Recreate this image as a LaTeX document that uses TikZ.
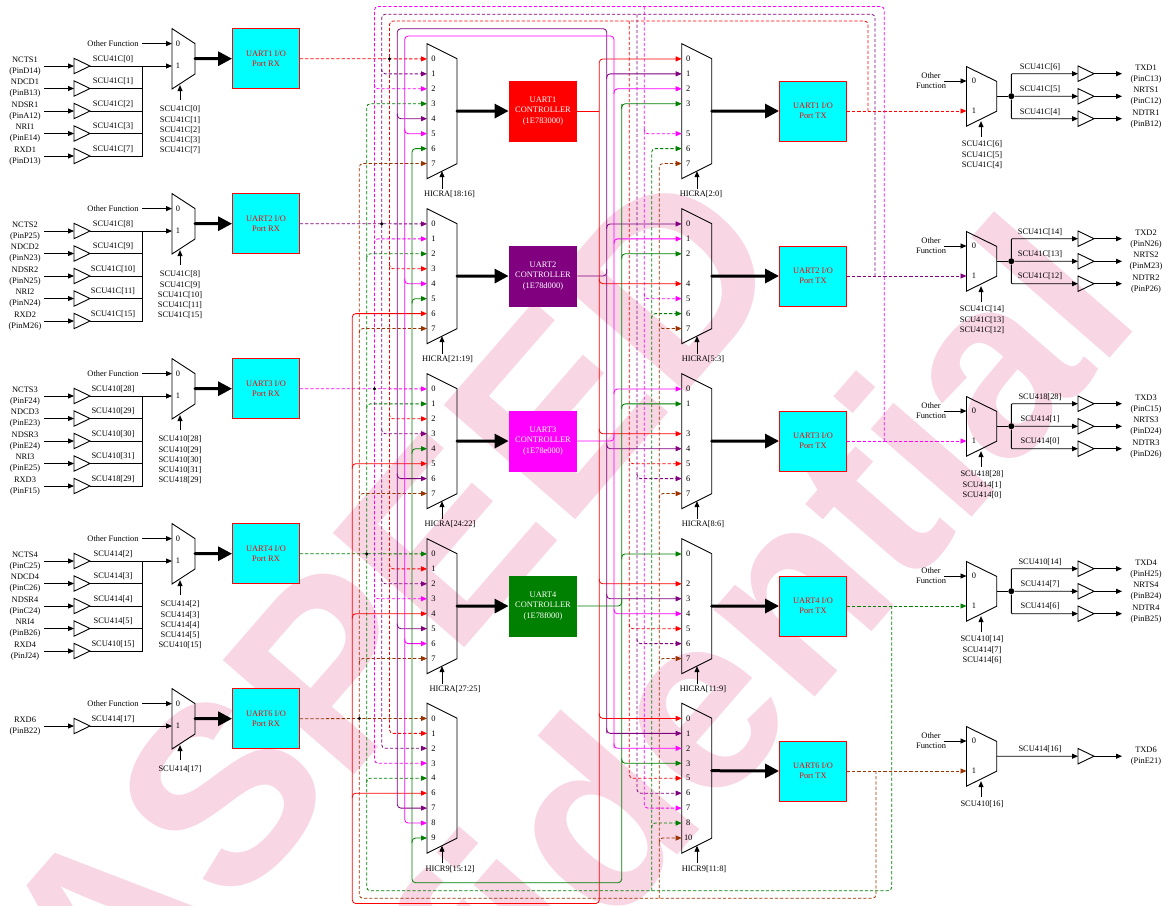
\documentclass[tikz,border=0pt]{standalone}
\usepackage{fontspec}
\setmainfont{Liberation Serif}
\newfontfamily\wmfont{Liberation Sans}
\usetikzlibrary{arrows.meta}
\definecolor{wm}{RGB}{248,214,228}
\definecolor{brn}{RGB}{153,51,0}
\definecolor{grn}{RGB}{0,128,0}
\definecolor{pur}{RGB}{128,0,128}
\definecolor{mag}{RGB}{255,0,255}
\definecolor{cy}{RGB}{0,255,255}
\definecolor{rd}{RGB}{255,0,0}
\tikzset{
  txt/.style={inner sep=0pt,align=center,font=\fontsize{8.4}{10.2}\selectfont},
  plab/.style={inner sep=0pt,font=\fontsize{8.4}{10}\selectfont},
  arr/.style={-{Triangle[length=6pt,width=5pt]}},
  both/.style={{Triangle[length=6pt,width=5pt]}-{Triangle[length=6pt,width=5pt]}},
  thick arr/.style={line width=3pt,-{Triangle[length=14pt,width=14pt]},line cap=round},
  dsh/.style={dash pattern=on 3.2pt off 2pt},
  rc/.style={rounded corners=3.5pt},
  shp/.style={line width=.9pt},
  iobox/.style={draw=rd,fill=cy,line width=.9pt,minimum width=67pt,minimum height=60pt,inner sep=0pt,text=rd,align=center,font=\fontsize{8.4}{10.2}\selectfont},
  ctl/.style={fill=#1,minimum width=68pt,minimum height=61pt,inner sep=0pt,text=white,align=center,font=\fontsize{8.4}{10.2}\selectfont},
  dot/.style={circle,fill=black,inner sep=0pt,minimum size=#1},
  wmark/.style={rotate=49,anchor=base,text=wm,inner sep=0pt,font=\wmfont\bfseries\fontsize{253}{253}\selectfont}
}
% input row: id, y, name, pin, signal
\newcommand\inrow[5]{%
  \node[txt,font=\fontsize{8.4}{11}\selectfont] (#1t) at (25,#2) {#3\\(#4)};
  \coordinate (#1a) at (44,#2); \coordinate (#1b) at (74,#2); \coordinate (#1c) at (90,#2); \coordinate (#1d) at (142.5,#2);
  \draw[shp] (74,#2-7.7) -- (90,#2) -- (74,#2+7.7) -- cycle;
  \draw[arr,shp] (#1a) -- (#1b);
  \draw[shp] (#1c) -- (#1d);
  \node[txt] (#1s) at (113,#2-7.3) {#5};
}
% left mux: id, top y, select lines
\newcommand\rmux[3]{%
  \draw[shp] (172,#2) -- (195,#2+15) -- (195,#2+45.4) -- (172,#2+60.4) -- cycle;
  \coordinate (#1-0) at (172,#2+15); \coordinate (#1-1) at (172,#2+37.4);
  \coordinate (#1-out) at (195,#2+30.1);
  \coordinate (#1-ofs) at (142,#2+15);
  \coordinate (#1-sa) at (180,#2+71.4); \coordinate (#1-sb) at (180,#2+56.5);
  \node[plab] (#1-l0) at (178,#2+15) {0};
  \node[plab] (#1-l1) at (178,#2+37.4) {1};
  \node[txt] (#1-of) at (113,#2+15) {Other Function};
  \draw[arr,shp] (#1-ofs) -- (#1-0);
  \draw[arr,shp] (#1-sa) -- (#1-sb);
  \node[txt,anchor=north] (#1-sel) at (180,#2+77) {#3};
}
% centre mux: id, x, top y, slots, list pos/lab, select x, label x, select text
\newcommand\cmux[8]{%
  \draw[shp] (#2,#3) -- (#2+30,#3+15) -- (#2+30,#3+15+#4) -- (#2,#3+30+#4) -- cycle;
  \coordinate (#1-out) at (#2+30,#3+67.5);
  \coordinate (#1-sa) at (#6,#3+30+#4-.5+10.5); \coordinate (#1-sb) at (#6,#3+30+#4-7.5);
  \draw[arr,shp] (#1-sa) -- (#1-sb);
  \foreach \p/\l in {#5}{
    \coordinate (#1-\l) at (#2,#3+15.2+\p*14.95);
    \node[plab] (#1-t\l) at (#2+6.5,#3+15.2+\p*14.95) {\l};
  }
  \node[txt] (#1-sel) at (#7,#3+30+#4+15.5) {#8};
}
% output mux: id, top y, select lines
\newcommand\omux[3]{%
  \draw[shp] (966.5,#2) -- (996.7,#2+14.8) -- (996.7,#2+44.6) -- (966.5,#2+59.6) -- cycle;
  \coordinate (#1-0) at (966.5,#2+14.4); \coordinate (#1-1) at (966.5,#2+44.4);
  \coordinate (#1-out) at (996.7,#2+29.6);
  \coordinate (#1-ofs) at (944,#2+14.4);
  \coordinate (#1-sa) at (981,#2+70.6); \coordinate (#1-sb) at (981,#2+54.5);
  \node[plab] (#1-l0) at (974,#2+14.4) {0};
  \node[plab] (#1-l1) at (974,#2+44.4) {1};
  \node[txt,font=\fontsize{8.4}{10}\selectfont] (#1-of) at (931,#2+14.4) {Other\\Function};
  \draw[arr,shp] (#1-ofs) -- (#1-0);
  \draw[arr,shp] (#1-sa) -- (#1-sb);
  \node[txt,anchor=north] (#1-sel) at (982,#2+74) {#3};
}
% output row: id, y, label y, name, pin, signal
\newcommand\outrow[6]{%
  \coordinate (#1a) at (1078,#2); \coordinate (#1b) at (1094,#2); \coordinate (#1c) at (1122,#2);
  \draw[shp] (1078,#2-7.7) -- (1094,#2) -- (1078,#2+7.7) -- cycle;
  \draw[arr,shp] (#1b) -- (#1c);
  \node[txt,font=\fontsize{8.4}{11}\selectfont] (#1t) at (1146,#2) {#4\\(#5)};
  \node[txt] (#1s) at (1040,#3) {#6};
}
\newcommand\tap[4]{\draw[#1,rc,arr] (#2 |- #3) ++(0,#4) -- (#2 |- #3) -- (#3);}
\begin{document}
\begin{tikzpicture}[x=1pt,y=-1pt,line width=.8pt]
\useasboundingbox (0,0) rectangle (1166,905);
\clip (0,0) rectangle (1166,905);
% watermark
\node[wmark] (wm1) at (454,660) {ASPEED};
\node[wmark] (wm2) at (665,870) {Confidential};

% ---------- left inputs
\rmux{m1}{28.6}{SCU41C[0]\\SCU41C[1]\\SCU41C[2]\\SCU41C[3]\\SCU41C[7]}
\inrow{i11}{66}{NCTS1}{PinD14}{SCU41C[0]}
\inrow{i12}{88.5}{NDCD1}{PinB13}{SCU41C[1]}
\inrow{i13}{111}{NDSR1}{PinA12}{SCU41C[2]}
\inrow{i14}{133.5}{NRI1}{PinE14}{SCU41C[3]}
\inrow{i15}{156}{RXD1}{PinD13}{SCU41C[7]}
\rmux{m2}{193.6}{SCU41C[8]\\SCU41C[9]\\SCU41C[10]\\SCU41C[11]\\SCU41C[15]}
\inrow{i21}{231}{NCTS2}{PinP25}{SCU41C[8]}
\inrow{i22}{253.5}{NDCD2}{PinN23}{SCU41C[9]}
\inrow{i23}{276}{NDSR2}{PinN25}{SCU41C[10]}
\inrow{i24}{298.5}{NRI2}{PinN24}{SCU41C[11]}
\inrow{i25}{321}{RXD2}{PinM26}{SCU41C[15]}
\rmux{m3}{358.6}{SCU410[28]\\SCU410[29]\\SCU410[30]\\SCU410[31]\\SCU418[29]}
\inrow{i31}{396}{NCTS3}{PinF24}{SCU410[28]}
\inrow{i32}{418.5}{NDCD3}{PinE23}{SCU410[29]}
\inrow{i33}{441}{NDSR3}{PinE24}{SCU410[30]}
\inrow{i34}{463.5}{NRI3}{PinE25}{SCU410[31]}
\inrow{i35}{486}{RXD3}{PinF15}{SCU418[29]}
\rmux{m4}{523.6}{SCU414[2]\\SCU414[3]\\SCU414[4]\\SCU414[5]\\SCU410[15]}
\inrow{i41}{561}{NCTS4}{PinC25}{SCU414[2]}
\inrow{i42}{583.5}{NDCD4}{PinC26}{SCU414[3]}
\inrow{i43}{606}{NDSR4}{PinC24}{SCU414[4]}
\inrow{i44}{628.5}{NRI4}{PinB26}{SCU414[5]}
\inrow{i45}{651}{RXD4}{PinJ24}{SCU410[15]}
\rmux{m5}{688.6}{SCU414[17]}
\inrow{i51}{726}{RXD6}{PinB22}{SCU414[17]}
\foreach \g in {1,2,3,4}{
  \draw[shp] (i\g1d) -- (i\g5d);
  \draw[arr,shp] (i\g1d) -- (m\g-1);
}
\draw[arr,shp] (i51d) -- (m5-1);

% ---------- port boxes
\node[iobox] (rx1) at (266,58.7) {UART1 I/O\\Port RX};
\node[iobox] (rx2) at (266,223.7) {UART2 I/O\\Port RX};
\node[iobox] (rx3) at (266,388.7) {UART3 I/O\\Port RX};
\node[iobox] (rx4) at (266,553.7) {UART4 I/O\\Port RX};
\node[iobox] (rx5) at (266,718.7) {UART6 I/O\\Port RX};
\foreach \g in {1,...,5}{\draw[thick arr] (m\g-out) -- (rx\g.west);}

\node[iobox] (tx1) at (813,111) {UART1 I/O\\Port TX};
\node[iobox] (tx2) at (813,276) {UART2 I/O\\Port TX};
\node[iobox] (tx3) at (813,441) {UART3 I/O\\Port TX};
\node[iobox] (tx4) at (813,606) {UART4 I/O\\Port TX};
\node[iobox] (tx5) at (813,771) {UART6 I/O\\Port TX};

\node[ctl=rd] (c1) at (543,111) {UART1\\CONTROLLER\\(1E783000)};
\node[ctl=pur] (c2) at (543,276) {UART2\\CONTROLLER\\(1E78d000)};
\node[ctl=mag] (c3) at (543,441) {UART3\\CONTROLLER\\(1E78e000)};
\node[ctl=grn] (c4) at (543,606) {UART4\\CONTROLLER\\(1E78f000)};

% ---------- centre muxes
\cmux{a1}{427}{43.7}{105}{0/0,1/1,2/2,3/3,4/4,5/5,6/6,7/7}{442}{449.5}{HICRA[18:16]}
\cmux{a2}{427}{208.7}{105}{0/0,1/1,2/2,3/3,4/4,5/5,6/6,7/7}{442}{447.5}{HICRA[21:19]}
\cmux{a3}{427}{373.7}{105}{0/0,1/1,2/2,3/3,4/4,5/5,6/6,7/7}{442}{450}{HICRA[24:22]}
\cmux{a4}{427}{538.7}{105}{0/0,1/1,2/2,3/3,4/4,5/5,6/6,7/7}{442}{455}{HICRA[27:25]}
\cmux{a5}{427}{703.2}{120}{0/0,1/1,2/2,3/3,4/4,5/6,6/7,7/8,8/9}{442}{450}{HICR9[15:12]}
\cmux{b1}{681.7}{43.7}{105}{0/0,1/1,2/2,3/3,5/5,6/6,7/7}{697}{701}{HICRA[2:0]}
\cmux{b2}{681.7}{208.7}{105}{0/0,1/1,2/2,4/4,5/5,6/6,7/7}{697}{703}{HICRA[5:3]}
\cmux{b3}{681.7}{373.7}{105}{0/0,1/1,3/3,4/4,5/5,6/6,7/7}{697}{703}{HICRA[8:6]}
\cmux{b4}{681.7}{538.7}{105}{0/0,2/2,3/3,4/4,5/5,6/6,7/7}{697}{703}{HICRA[11:9]}
\cmux{b5}{681.7}{703.2}{120}{0/0,1/1,2/2,3/3,4/5,5/6,6/7,7/8,8/10}{697}{704}{HICR9[11:8]}
\foreach \g in {1,2,3,4}{
  \draw[thick arr] (a\g-out) -- (c\g.west);
  \draw[thick arr] (b\g-out) -- (tx\g.west);
}
\draw[thick arr] (b5-out) -- (tx5.west);

% ---------- output muxes
\omux{o1}{66.6}{SCU41C[6]\\SCU41C[5]\\SCU41C[4]}
\outrow{r11}{73.7}{67}{TXD1}{PinC13}{SCU41C[6]}
\outrow{r12}{96.3}{89}{NRTS1}{PinC12}{SCU41C[5]}
\outrow{r13}{118.7}{112}{NDTR1}{PinB12}{SCU41C[4]}
\omux{o2}{231.6}{SCU41C[14]\\SCU41C[13]\\SCU41C[12]}
\outrow{r21}{238.7}{232}{TXD2}{PinN26}{SCU41C[14]}
\outrow{r22}{261.3}{254}{NRTS2}{PinM23}{SCU41C[13]}
\outrow{r23}{283.7}{276}{NDTR2}{PinP26}{SCU41C[12]}
\omux{o3}{396.6}{SCU418[28]\\SCU414[1]\\SCU414[0]}
\outrow{r31}{403.7}{397}{TXD3}{PinC15}{SCU418[28]}
\outrow{r32}{426.3}{419}{NRTS3}{PinD24}{SCU414[1]}
\outrow{r33}{448.7}{441}{NDTR3}{PinD26}{SCU414[0]}
\omux{o4}{561.6}{SCU410[14]\\SCU414[7]\\SCU414[6]}
\outrow{r41}{568.7}{562}{TXD4}{PinH25}{SCU410[14]}
\outrow{r42}{591.3}{584}{NRTS4}{PinB24}{SCU414[7]}
\outrow{r43}{613.7}{606}{NDTR4}{PinB25}{SCU414[6]}
\omux{o5}{726.6}{SCU410[16]}
\outrow{r51}{756.2}{749}{TXD6}{PinE21}{SCU414[16]}
\foreach \g in {1,2,3,4}{
  \node[dot=6pt] (j\g) at (1011.3,66.6+29.6+165*\g-165) {};
  \draw[shp] (o\g-out) -- (j\g);
  \draw[shp,arr] (j\g) -- (r\g2a);
  \draw[shp,arr,rounded corners=1pt] (j\g) -- (j\g |- r\g1a) -- (r\g1a);
  \draw[shp,arr,rounded corners=1pt] (j\g) -- (j\g |- r\g3a) -- (r\g3a);
}
\draw[shp,arr] (o5-out) -- (r51a);

% ---------- bus rails
\coordinate (xBr) at (359.3,0); \coordinate (xGd) at (366.7,0); \coordinate (xMd) at (374.5,0);
\coordinate (xPd) at (381.7,0); \coordinate (xRd) at (389.5,0); \coordinate (xRs) at (352.3,0);
\coordinate (xPs) at (397.3,0); \coordinate (xMs) at (404.7,0); \coordinate (xGs) at (412,0);
\coordinate (XRs) at (599.3,0); \coordinate (XPs) at (606.7,0); \coordinate (XMs) at (614,0);
\coordinate (XGs) at (621.7,0); \coordinate (XRd) at (629.3,0); \coordinate (XPd) at (637,0);
\coordinate (XMd) at (644.3,0); \coordinate (XGd) at (651.7,0); \coordinate (XBr) at (659.3,0);
\coordinate (ORd) at (868,0); \coordinate (OPd) at (875,0); \coordinate (OMd) at (884.3,0);
\coordinate (OGd) at (891.7,0); \coordinate (OBr) at (876,0);
\coordinate (yMd) at (0,6.5); \coordinate (yPd) at (0,14.3); \coordinate (yRd) at (0,21);
\coordinate (yPs) at (0,28.7); \coordinate (yMs) at (0,36); \coordinate (yGs) at (0,882.7);
\coordinate (yGd) at (0,890.7); \coordinate (yBr) at (0,898.3); \coordinate (yRs) at (0,903.5);

% ---- UART1 RX / TX: red dashed
\draw[rd,dsh,arr] (rx1.east) -- (a1-0);
\draw[rd,dsh,arr] (tx1.east) -- (o1-1);
\draw[rd,dsh,rc,arr] (ORd |- tx1.east) -- (ORd |- yRd) -- (xRd |- yRd) -- (xRd |- a5-1) -- (a5-1);
\draw[rd,dsh,rc,arr] (XRd |- yRd) -- (XRd |- b5-5) -- (b5-5);
\tap{rd,dsh}{xRd}{a2-3}{-5}\tap{rd,dsh}{xRd}{a3-2}{-5}\tap{rd,dsh}{xRd}{a4-1}{-5}
\tap{rd,dsh}{XRd}{b3-5}{-5}\tap{rd,dsh}{XRd}{b4-5}{-5}
\node[dot=3.4pt] (d1) at (xRd |- a1-0) {};
% ---- UART2: purple dashed
\draw[pur,dsh,arr] (rx2.east) -- (a2-0);
\draw[pur,dsh,arr] (tx2.east) -- (o2-1);
\draw[pur,dsh,rc,arr] (OPd |- tx2.east) -- (OPd |- yPd) -- (xPd |- yPd) -- (xPd |- a5-2) -- (a5-2);
\draw[pur,dsh,rc,arr] (XPd |- yPd) -- (XPd |- b5-6) -- (b5-6);
\tap{pur,dsh}{xPd}{a1-1}{-5}\tap{pur,dsh}{xPd}{a3-3}{-5}\tap{pur,dsh}{xPd}{a4-2}{-5}
\tap{pur,dsh}{XPd}{b3-6}{-5}\tap{pur,dsh}{XPd}{b4-6}{-5}
\node[dot=3.4pt] (d2) at (xPd |- a2-0) {};
% ---- UART3: magenta dashed
\draw[mag,dsh,arr] (rx3.east) -- (a3-0);
\draw[mag,dsh,arr] (tx3.east) -- (o3-1);
\draw[mag,dsh,rc,arr] (OMd |- tx3.east) -- (OMd |- yMd) -- (xMd |- yMd) -- (xMd |- a5-3) -- (a5-3);
\draw[mag,dsh,rc,arr] (XMd |- yMd) -- (XMd |- b5-7) -- (b5-7);
\tap{mag,dsh}{xMd}{a1-2}{-5}\tap{mag,dsh}{xMd}{a2-1}{5}\tap{mag,dsh}{xMd}{a4-3}{-5}
\tap{mag,dsh}{XMd}{b1-5}{-5}\tap{mag,dsh}{XMd}{b2-5}{-5}
\node[dot=3.4pt] (d3) at (xMd |- a3-0) {};
% ---- UART4: green dashed
\draw[grn,dsh,arr] (rx4.east) -- (a4-0);
\draw[grn,dsh,arr] (tx4.east) -- (o4-1);
\draw[grn,dsh,rc,arr] (OGd |- tx4.east) -- (OGd |- yGd) -- (xGd |- yGd) -- (xGd |- a1-3) -- (a1-3);
\draw[grn,dsh,rc,arr] (XGd |- yGd) -- (XGd |- b1-6) -- (b1-6);
\tap{grn,dsh}{xGd}{a2-2}{5}\tap{grn,dsh}{xGd}{a3-1}{5}\tap{grn,dsh}{xGd}{a5-4}{5}
\tap{grn,dsh}{XGd}{b2-6}{5}\tap{grn,dsh}{XGd}{b5-8}{5}
\node[dot=3.4pt] (d4) at (xGd |- a4-0) {};
% ---- UART6: brown dashed
\draw[brn,dsh,arr] (rx5.east) -- (a5-0);
\draw[brn,dsh,arr] (tx5.east) -- (o5-1);
\draw[brn,dsh,rc,arr] (OBr |- tx5.east) -- (OBr |- yBr) -- (xBr |- yBr) -- (xBr |- a1-7) -- (a1-7);
\draw[brn,dsh,rc,arr] (XBr |- yBr) -- (XBr |- b1-7) -- (b1-7);
\tap{brn,dsh}{xBr}{a2-7}{5}\tap{brn,dsh}{xBr}{a3-7}{5}\tap{brn,dsh}{xBr}{a4-7}{5}
\tap{brn,dsh}{XBr}{b2-7}{-5}\tap{brn,dsh}{XBr}{b3-7}{5}\tap{brn,dsh}{XBr}{b4-7}{5}\tap{brn,dsh}{XBr}{b5-10}{5}
\node[dot=3.4pt] (d5) at (xBr |- a5-0) {};

% ---- controller 1: red solid
\draw[rd,rc,both] (a2-6) -- (xRs |- a2-6) -- (xRs |- yRs) -- (XRs |- yRs) -- (XRs |- b1-0) -- (b1-0);
\draw[rd] (c1.east) -- (XRs |- c1.east);
\tap{rd}{xRs}{a3-5}{5}\tap{rd}{xRs}{a4-4}{5}\tap{rd}{xRs}{a5-6}{5}
\tap{rd}{XRs}{b2-4}{-5}\tap{rd}{XRs}{b3-3}{-5}\tap{rd}{XRs}{b4-2}{-5}\tap{rd}{XRs}{b5-0}{-5}
% ---- controller 2: purple solid
\draw[pur,rc,arr] (XPs |- b5-1) -- (XPs |- yPs) -- (xPs |- yPs) -- (xPs |- a5-7) -- (a5-7);
\draw[pur,rc,arr] (XPs |- b1-1) ++(0,5) -- (XPs |- b1-1) -- (b1-1);
\draw[pur,rc] (c2.east) -- (XPs |- c2.east) -- ++(0,-7);
\tap{pur}{xPs}{a1-4}{-5}\tap{pur}{xPs}{a3-6}{-5}\tap{pur}{xPs}{a4-5}{-5}
\tap{pur}{XPs}{b2-0}{5}\tap{pur}{XPs}{b3-4}{-5}\tap{pur}{XPs}{b4-3}{-5}\tap{pur}{XPs}{b5-1}{-5}
% ---- controller 3: magenta solid
\draw[mag,rc,arr] (XMs |- b5-2) -- (XMs |- yMs) -- (xMs |- yMs) -- (xMs |- a5-8) -- (a5-8);
\draw[mag,rc] (c3.east) -- (XMs |- c3.east) -- ++(0,-7);
\tap{mag}{xMs}{a1-5}{-5}\tap{mag}{xMs}{a2-4}{-5}\tap{mag}{xMs}{a4-6}{-5}
\tap{mag}{XMs}{b1-2}{5}\tap{mag}{XMs}{b2-1}{5}\tap{mag}{XMs}{b3-0}{5}\tap{mag}{XMs}{b4-4}{-5}\tap{mag}{XMs}{b5-2}{-5}
% ---- controller 4: green solid
\draw[grn,rc,arr] (XGs |- b1-3) -- (XGs |- yGs) -- (xGs |- yGs) -- (xGs |- a1-6) -- (a1-6);
\draw[grn,rc,arr] (XGs |- b1-3) ++(0,5) -- (XGs |- b1-3) -- (b1-3);
\draw[grn,rc] (c4.east) -- (XGs |- c4.east) -- ++(0,-7);
\tap{grn}{xGs}{a2-5}{5}\tap{grn}{xGs}{a3-4}{5}\tap{grn}{xGs}{a5-9}{5}
\tap{grn}{XGs}{b2-2}{5}\tap{grn}{XGs}{b3-1}{5}\tap{grn}{XGs}{b4-0}{5}\tap{grn}{XGs}{b5-3}{-5}
\end{tikzpicture}
\end{document}
